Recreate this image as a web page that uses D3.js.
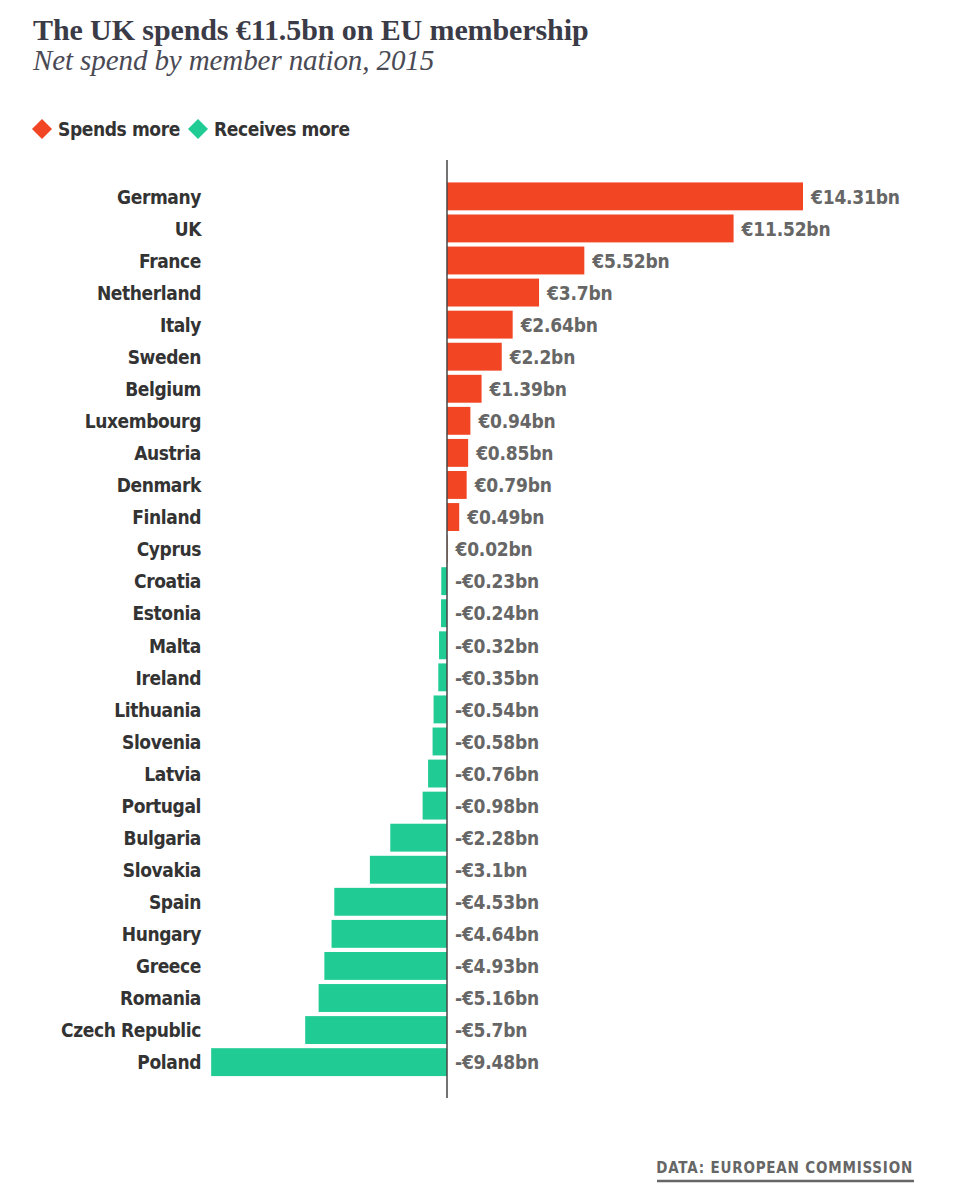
<!DOCTYPE html>
<html><head><meta charset="utf-8">
<script src="https://cdn.jsdelivr.net/npm/d3@7"></script>
<style>
body{margin:0;background:#fff;}
svg{display:block;}
</style></head><body>
<svg id="chart" width="963" height="1200"></svg>
<script>
const countries = ["Germany","UK","France","Netherland","Italy","Sweden","Belgium","Luxembourg","Austria","Denmark","Finland","Cyprus","Croatia","Estonia","Malta","Ireland","Lithuania","Slovenia","Latvia","Portugal","Bulgaria","Slovakia","Spain","Hungary","Greece","Romania","Czech Republic","Poland"];
const values = [14.31,11.52,5.52,3.7,2.64,2.2,1.39,0.94,0.85,0.79,0.49,0.02,-0.23,-0.24,-0.32,-0.35,-0.54,-0.58,-0.76,-0.98,-2.28,-3.1,-4.53,-4.64,-4.93,-5.16,-5.7,-9.48];
const valueLabels = ["€14.31bn","€11.52bn","€5.52bn","€3.7bn","€2.64bn","€2.2bn","€1.39bn","€0.94bn","€0.85bn","€0.79bn","€0.49bn","€0.02bn","-€0.23bn","-€0.24bn","-€0.32bn","-€0.35bn","-€0.54bn","-€0.58bn","-€0.76bn","-€0.98bn","-€2.28bn","-€3.1bn","-€4.53bn","-€4.64bn","-€4.93bn","-€5.16bn","-€5.7bn","-€9.48bn"];
const legendLabels = ["Spends more","Receives more"];
const colors = {pos:"#f24524", neg:"#20cc94"};

const svg = d3.select("#chart");
const sans = "'DejaVu Sans Condensed','DejaVu Sans',sans-serif";
const serif = "'Liberation Serif','DejaVu Serif',serif";

svg.append("text").attr("x",33).attr("y",40).text("The UK spends €11.5bn on EU membership")
  .attr("font-family",serif).attr("font-weight","bold").attr("font-size",30).attr("fill","#3b3b47").attr("letter-spacing",-0.1);
svg.append("text").attr("x",33).attr("y",70).text("Net spend by member nation, 2015")
  .attr("font-family",serif).attr("font-style","italic").attr("font-size",29).attr("fill","#4a4a55").attr("letter-spacing",-0.1);

// legend
const leg = [{x:42,label:legendLabels[0],c:colors.pos},{x:198,label:legendLabels[1],c:colors.neg}];
leg.forEach(l=>{
  svg.append("path").attr("d",d3.symbol(d3.symbolSquare,200)())
    .attr("transform",`translate(${l.x},129) rotate(45)`).attr("fill",l.c);
  svg.append("text").attr("x",l.x+16).attr("y",136).text(l.label)
    .attr("font-family",sans).attr("font-weight","bold").attr("font-size",19).attr("letter-spacing",-0.4).attr("fill","#333");
});

const x = d3.scaleLinear().domain([0,14.31]).range([447,803]);
const y = d3.scaleBand().domain(countries).range([180.5,1078]).paddingInner(0.13).paddingOuter(0.06);

svg.append("g").selectAll("rect").data(countries).join("rect")
  .attr("x",(d,i)=>Math.min(x(0),x(values[i])))
  .attr("width",(d,i)=>Math.abs(x(values[i])-x(0)))
  .attr("y",d=>y(d)).attr("height",y.bandwidth())
  .attr("fill",(d,i)=>values[i]>=0?colors.pos:colors.neg);

// axis line
svg.append("line").attr("x1",x(0)).attr("x2",x(0)).attr("y1",160).attr("y2",1098)
  .attr("stroke","#444").attr("stroke-width",1.5);

// country labels
svg.append("g").selectAll("text").data(countries).join("text")
  .attr("x",201).attr("y",d=>y(d)+y.bandwidth()/2).attr("dy","0.38em")
  .attr("text-anchor","end").text(d=>d)
  .attr("font-family",sans).attr("font-weight","bold").attr("font-size",19).attr("letter-spacing",-0.4).attr("fill","#333");

// value labels
svg.append("g").selectAll("text").data(countries).join("text")
  .attr("x",(d,i)=>Math.max(x(0),x(values[i]))+8).attr("y",d=>y(d)+y.bandwidth()/2).attr("dy","0.38em")
  .text((d,i)=>valueLabels[i])
  .attr("font-family",sans).attr("font-weight","bold").attr("font-size",19).attr("letter-spacing",-0.2).attr("fill","#666");

// source
svg.append("text").attr("x",913).attr("y",1173).attr("text-anchor","end").text("DATA: EUROPEAN COMMISSION")
  .attr("font-family",sans).attr("font-weight","bold").attr("font-size",15).attr("fill","#666").attr("letter-spacing",0.8);
svg.append("line").attr("x1",657).attr("x2",914).attr("y1",1181).attr("y2",1181).attr("stroke","#666").attr("stroke-width",2.5);
</script>
</body></html>
